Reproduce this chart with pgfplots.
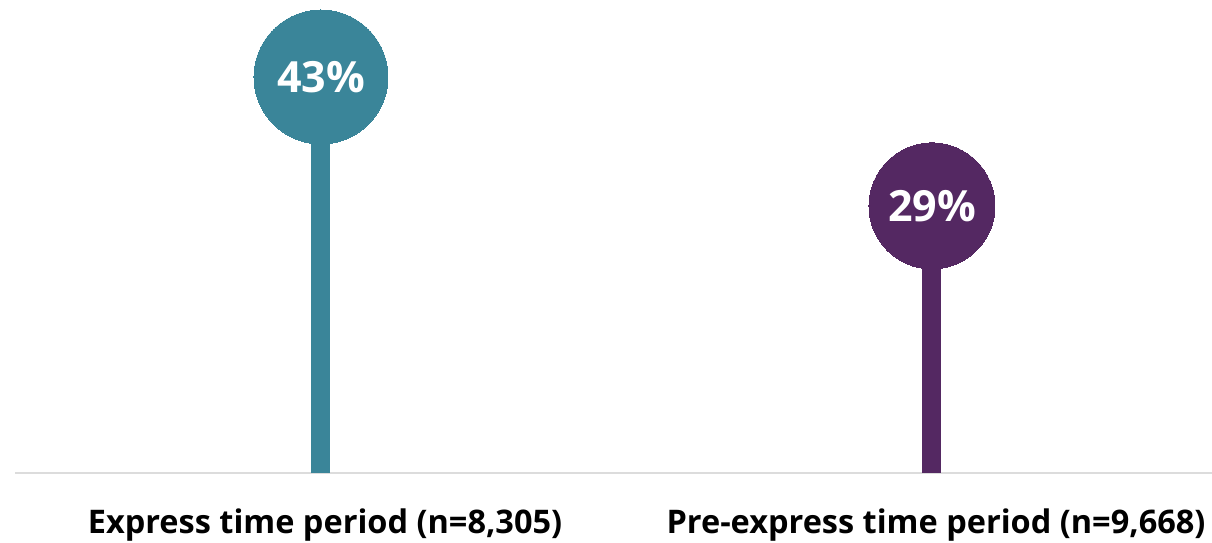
\documentclass[border=0pt]{standalone}
\usepackage{fontspec}
\setmainfont{Open Sans}
\usepackage{pgfplots}
\pgfplotsset{compat=1.18}
\definecolor{tealc}{HTML}{3A8599}
\definecolor{purplec}{HTML}{542862}
\definecolor{basec}{HTML}{DCDCDC}
\begin{document}
\begin{tikzpicture}
\useasboundingbox (-15pt,-70pt) rectangle (1197pt,473pt);
\clip (-15pt,-70pt) rectangle (1197pt,473pt);
\begin{axis}[
  at={(0,0)}, anchor=south west,
  scale only axis, width=1197pt, height=473pt,
  xmin=-0.5008, xmax=1.4583, ymin=0, ymax=51.36,
  clip=false,
  axis x line*=bottom, axis y line=none,
  x axis line style={basec, line width=2pt, -},
  xtick={0,1}, xticklabels={{Express time period (n=8,305)}, {Pre-express time period (n=9,668)}},
  major tick length=0pt,
  xticklabel style={anchor=base, yshift=-60pt, xshift=4pt, font=\fontsize{32.5}{38}\selectfont\bfseries, text=black},
  ytick=\empty,
  nodes near coords={\textbf{\pgfmathprintnumber[assume math mode=true]{\pgfplotspointmeta}\%}},
  every node near coord/.append style={anchor=center, text=white, font=\fontsize{43}{50}\selectfont\bfseries},
]
\addplot[ycomb, tealc, line width=19pt, mark=*, mark size=67pt, mark options={solid, line width=0pt, draw=tealc, fill=tealc}] coordinates {(0,43)};
\addplot[ycomb, purplec, line width=19pt, mark=*, mark size=63pt, mark options={solid, line width=0pt, draw=purplec, fill=purplec}] coordinates {(1,29)};
\end{axis}
\end{tikzpicture}
\end{document}
